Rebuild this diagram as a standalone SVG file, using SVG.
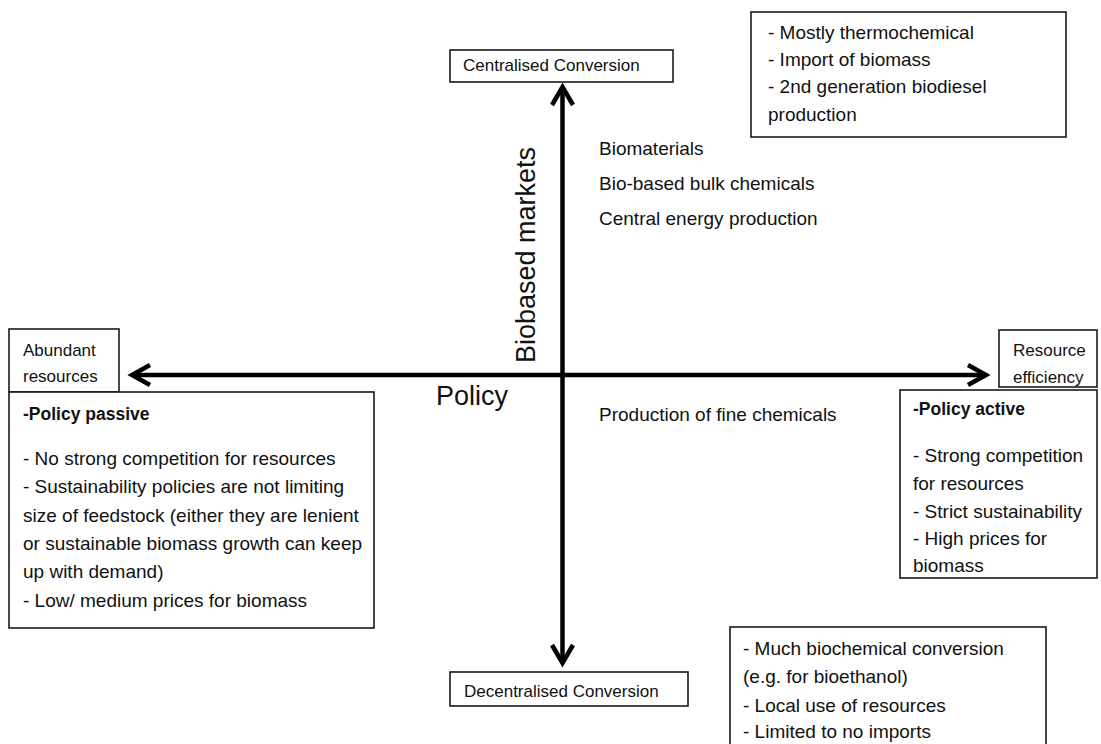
<svg xmlns="http://www.w3.org/2000/svg" width="1101" height="744" viewBox="0 0 1101 744">
<style>
  .bg{fill:#ffffff}
  .box{fill:#ffffff;stroke:#1a1a1a;stroke-width:1.6}
  .t{font-family:"Liberation Sans",Arial,sans-serif;font-size:19px;fill:#111111}
  .lbl{font-family:"Liberation Sans",Arial,sans-serif;font-size:17px;fill:#111111}
  .b{font-family:"Liberation Sans",Arial,sans-serif;font-size:17.5px;font-weight:bold;fill:#111111}
  .big{font-family:"Liberation Sans",Arial,sans-serif;font-size:27px;fill:#111111}
  .axis{fill:none;stroke:#000000;stroke-width:4.5}
  .head{fill:none;stroke:#000000;stroke-width:4.5;stroke-linejoin:miter;stroke-miterlimit:10}
</style>
<rect class="bg" x="0" y="0" width="1101" height="744"/>

<g id="connectors">
  <line class="axis" x1="132" y1="375" x2="986" y2="375"/>
  <path class="head" d="M 150 365 L 132 375 L 150 385"/>
  <path class="head" d="M 968 365 L 986 375 L 968 385"/>
  <line class="axis" x1="562.5" y1="87" x2="562.5" y2="663"/>
  <path class="head" d="M 552 105 L 562.5 87 L 573 105"/>
  <path class="head" d="M 552 645 L 562.5 663 L 573 645"/>
</g>

<g id="centralised">
  <rect class="box" x="450" y="50" width="223" height="32"/>
  <text class="lbl" x="463" y="71">Centralised Conversion</text>
</g>

<g id="decentralised">
  <rect class="box" x="450" y="672" width="238" height="34"/>
  <text class="lbl" x="464" y="697">Decentralised Conversion</text>
</g>

<g id="abundant">
  <rect class="box" x="9" y="329" width="110" height="63"/>
  <text class="lbl" x="23" y="356">Abundant</text>
  <text class="lbl" x="23" y="382">resources</text>
</g>

<g id="efficiency">
  <rect class="box" x="999" y="330" width="98" height="57"/>
  <text class="lbl" x="1013" y="356">Resource</text>
  <text class="lbl" x="1013" y="383">efficiency</text>
</g>

<g id="policy-passive">
  <rect class="box" x="9" y="392" width="365" height="236"/>
  <text class="b" x="23" y="420">-Policy passive</text>
  <text class="t" x="23" y="465">- No strong competition for resources</text>
  <text class="t" x="23" y="493">- Sustainability policies are not limiting</text>
  <text class="t" x="23" y="522">size of feedstock (either they are lenient</text>
  <text class="t" x="23" y="550">or sustainable biomass growth can keep</text>
  <text class="t" x="23" y="578">up with demand)</text>
  <text class="t" x="23" y="607">- Low/ medium prices for biomass</text>
</g>

<g id="policy-active">
  <rect class="box" x="900" y="390" width="197" height="188"/>
  <text class="b" x="913" y="415">-Policy active</text>
  <text class="t" x="913" y="462">- Strong competition</text>
  <text class="t" x="913" y="490">for resources</text>
  <text class="t" x="913" y="518">- Strict sustainability</text>
  <text class="t" x="913" y="545">- High prices for</text>
  <text class="t" x="913" y="572">biomass</text>
</g>

<g id="central-notes">
  <rect class="box" x="751" y="12" width="315" height="125"/>
  <text class="t" x="768" y="39">- Mostly thermochemical</text>
  <text class="t" x="768" y="66">- Import of biomass</text>
  <text class="t" x="768" y="93">- 2nd generation biodiesel</text>
  <text class="t" x="768" y="121">production</text>
</g>

<g id="decentral-notes">
  <rect class="box" x="730" y="627" width="316" height="130"/>
  <text class="t" x="743" y="655">- Much biochemical conversion</text>
  <text class="t" x="743" y="683">(e.g. for bioethanol)</text>
  <text class="t" x="743" y="712">- Local use of resources</text>
  <text class="t" x="743" y="738">- Limited to no imports</text>
</g>

<g id="markets">
  <text class="t" x="599" y="155">Biomaterials</text>
  <text class="t" x="599" y="190">Bio-based bulk chemicals</text>
  <text class="t" x="599" y="225">Central energy production</text>
  <text class="t" x="599" y="421">Production of fine chemicals</text>
</g>

<g id="axis-labels">
  <text class="big" x="436" y="405">Policy</text>
  <text class="big" transform="translate(535 363) rotate(-90)">Biobased markets</text>
</g>
</svg>
